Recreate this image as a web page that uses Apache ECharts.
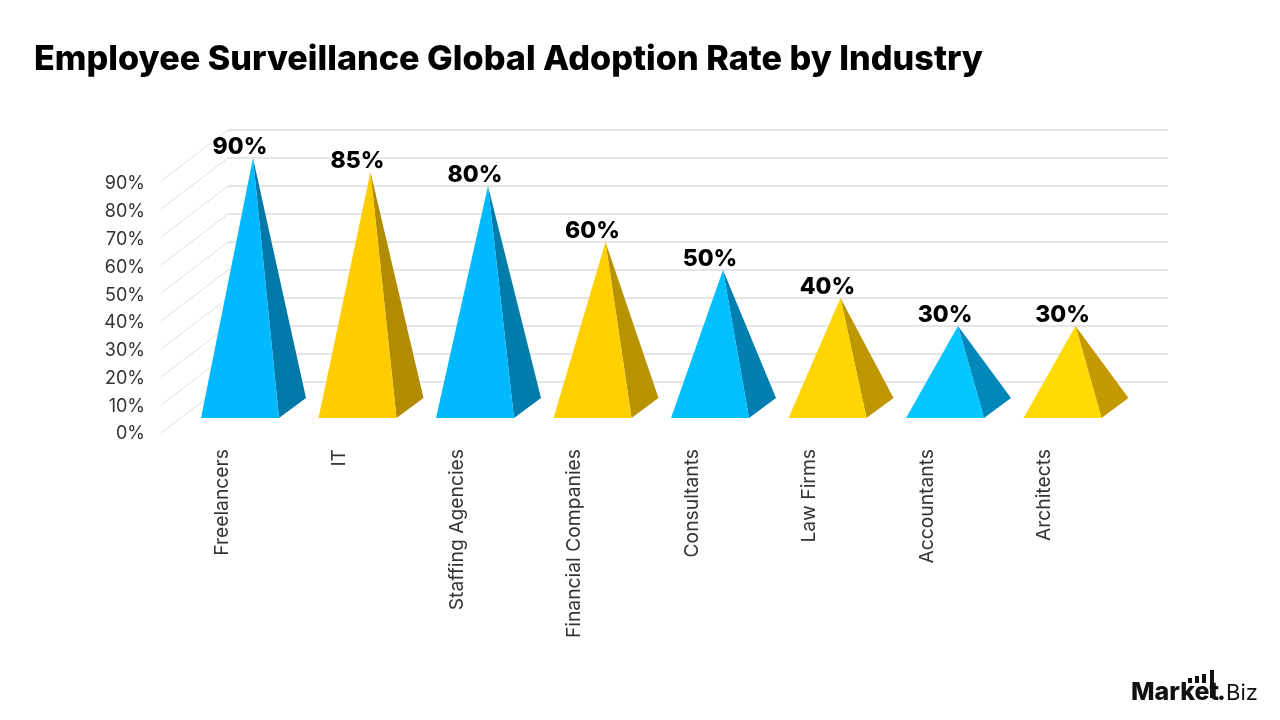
<!DOCTYPE html>
<html>
<head>
<meta charset="utf-8">
<style>html,body{margin:0;padding:0;background:#fff}#chart{width:1280px;height:720px}</style>
<script src="https://cdn.jsdelivr.net/npm/echarts@6/dist/echarts.min.js"></script>
</head>
<body>
<div id="chart"></div>
<script>
const titleText = 'Employee Surveillance Global Adoption Rate by Industry';
const industries = ['Freelancers', 'IT', 'Staffing Agencies', 'Financial Companies', 'Consultants', 'Law Firms', 'Accountants', 'Architects'];
const adoption = [90, 85, 80, 60, 50, 40, 30, 30];
const tickValues = [0, 10, 20, 30, 40, 50, 60, 70, 80, 90];
const faceColors = ['#00B9FF', '#FFCC00', '#00B9FF', '#FFD000', '#02BFFF', '#FFD503', '#05C6FF', '#FFDA05'];
const sideColors = ['#0079A8', '#B28C00', '#007CAB', '#B89300', '#007FB0', '#BE9600', '#0088BB', '#C59A00'];

const FONT = 'Inter, "Noto Sans", sans-serif';

// Pyramid outline relative to its category centre on the back wall
const APEX_DX = -33.75, LEFT_DX = -85.75, RIGHT_DX = -7.75, BACK_DX = 19.25;
const FRONT_DY = 8, BACK_DY = -12;

function renderPyramid(params, api) {
  const i = api.value(0);
  const top = api.coord([i, api.value(1)]);
  const floor = api.coord([i, 0]);
  const cx = top[0];
  const apex = [cx + APEX_DX, top[1]];
  const frontLeft = [cx + LEFT_DX, floor[1] + FRONT_DY];
  const frontRight = [cx + RIGHT_DX, floor[1] + FRONT_DY];
  const backRight = [cx + BACK_DX, floor[1] + BACK_DY];
  return {
    type: 'group',
    children: [
      { type: 'polygon', shape: { points: [apex, frontRight, backRight] }, style: { fill: sideColors[i] } },
      { type: 'polygon', shape: { points: [apex, frontLeft, frontRight] }, style: { fill: faceColors[i] } },
      { type: 'text', style: {
          text: api.value(1) + '%', x: cx - 46.75, y: top[1] - 11,
          align: 'center', verticalAlign: 'middle',
          font: '800 23px ' + FONT, fill: '#000' } }
    ]
  };
}

// Floor lines running from the front axis back to the wall
function renderDiagonal(params, api) {
  const y = api.coord([0, api.value(1)])[1];
  const x = params.coordSys.x;
  return { type: 'line', shape: { x1: x - 67, y1: y + 51, x2: x, y2: y },
           style: { stroke: '#dfdfdf', lineWidth: 1 } };
}

const chart = echarts.init(document.getElementById('chart'), null, { renderer: 'canvas' });
chart.setOption({
  animation: false,
  backgroundColor: '#fff',
  title: { text: titleText, left: 34, top: 43, padding: 0,
           textStyle: { fontFamily: FONT, fontSize: 34.2, fontWeight: 800, color: '#000' } },
  grid: [
    { left: 228, top: 130, width: 940, height: 280 },
    { left: 163, top: 184, width: 940, height: 250 }
  ],
  xAxis: [
    { type: 'category', gridIndex: 0, data: industries, show: false },
    { type: 'category', gridIndex: 1, data: industries,
      axisLine: { show: false }, axisTick: { show: false },
      axisLabel: { rotate: 90, margin: 15, interval: 0, fontFamily: FONT, fontSize: 19.3, color: '#333' } }
  ],
  yAxis: [
    { type: 'value', gridIndex: 0, min: 0, max: 100, interval: 10,
      axisLine: { show: false }, axisTick: { show: false }, axisLabel: { show: false },
      splitLine: { show: true, showMinLine: false, lineStyle: { color: '#e6e6e6', width: 2 } } },
    { type: 'value', gridIndex: 1, min: 0, max: 90, interval: 10,
      axisLine: { show: false }, axisTick: { show: false }, splitLine: { show: false },
      axisLabel: { margin: 18, fontFamily: FONT, fontSize: 18, color: '#333', formatter: '{value}%' } }
  ],
  series: [
    { type: 'custom', xAxisIndex: 0, yAxisIndex: 0, clip: false, z: 1, silent: true,
      renderItem: renderDiagonal,
      data: tickValues.map(v => [0, v + 10]) },
    { type: 'custom', xAxisIndex: 0, yAxisIndex: 0, clip: false, z: 2, silent: true,
      renderItem: renderPyramid,
      encode: { x: 0, y: 1 },
      data: adoption.map((v, i) => [i, v]) }
  ],
  graphic: [
    { type: 'text', left: 1131, top: 680, style: { text: 'Market', font: '800 25px ' + FONT, fill: '#111' } },
    { type: 'text', left: 1217, top: 680, style: { text: '.', font: '800 25px ' + FONT, fill: '#111' } },
    { type: 'text', left: 1226, top: 682, style: { text: 'Biz', font: '400 22px ' + FONT, fill: '#111' } },
    { type: 'rect', shape: { x: 1188, y: 678, width: 4, height: 5 }, style: { fill: '#111' } },
    { type: 'rect', shape: { x: 1195, y: 676, width: 4, height: 7 }, style: { fill: '#111' } },
    { type: 'rect', shape: { x: 1202, y: 674, width: 4, height: 9 }, style: { fill: '#111' } },
    { type: 'rect', shape: { x: 1210, y: 670, width: 4, height: 28 }, style: { fill: '#111' } }
  ]
});
</script>
</body>
</html>
